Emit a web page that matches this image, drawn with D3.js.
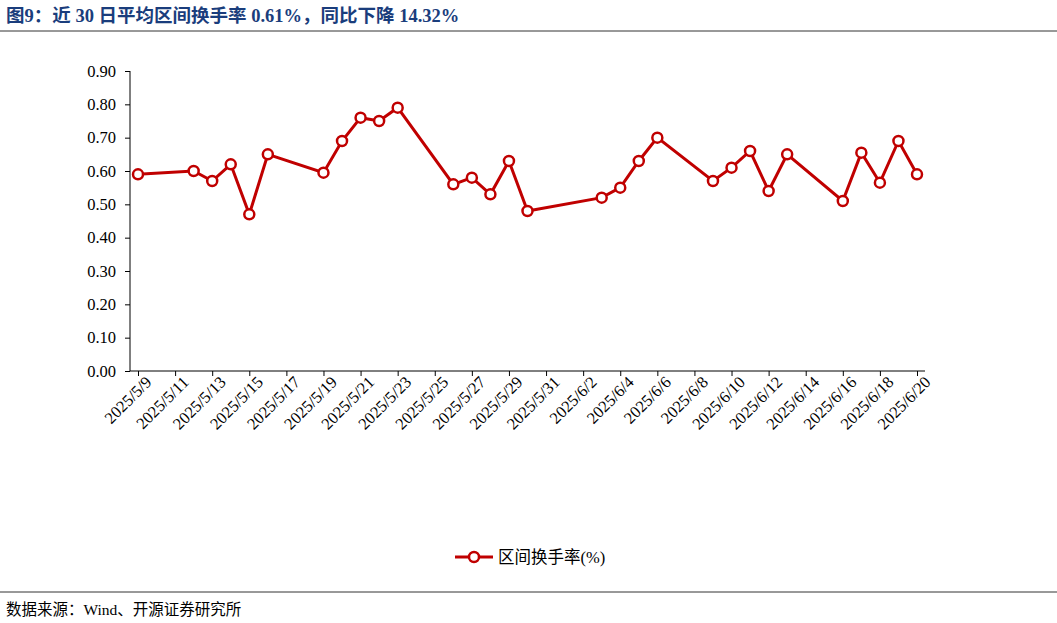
<!DOCTYPE html>
<html><head><meta charset="utf-8">
<script src="https://cdn.jsdelivr.net/npm/d3@7"></script>
<style>body{margin:0;background:#fff}text{font-family:"Liberation Serif","Noto Sans CJK SC",serif}</style>
</head><body><svg id="c" width="1057" height="623"></svg>
<script>
const dates=["2025-05-09","2025-05-12","2025-05-13","2025-05-14","2025-05-15","2025-05-16","2025-05-19","2025-05-20","2025-05-21","2025-05-22","2025-05-23","2025-05-26","2025-05-27","2025-05-28","2025-05-29","2025-05-30","2025-06-03","2025-06-04","2025-06-05","2025-06-06","2025-06-09","2025-06-10","2025-06-11","2025-06-12","2025-06-13","2025-06-16","2025-06-17","2025-06-18","2025-06-19","2025-06-20"];
const values=[0.59,0.60,0.57,0.62,0.47,0.65,0.595,0.69,0.76,0.75,0.79,0.56,0.58,0.53,0.63,0.48,0.52,0.55,0.63,0.70,0.57,0.61,0.66,0.54,0.65,0.51,0.655,0.565,0.69,0.59];
const yTicks=[0,0.1,0.2,0.3,0.4,0.5,0.6,0.7,0.8,0.9];
const title="图9：近 30 日平均区间换手率 0.61%，同比下降 14.32%";
const seriesName="区间换手率(%)";
const source="数据来源：Wind、开源证券研究所";
const red="#c00000";
const svg=d3.select("#c");
const p=d=>new Date(d+"T00:00:00");
const x=d3.scaleTime().domain([p("2025-05-09"),p("2025-06-20")]).range([138,917]);
const y=d3.scaleLinear().domain([0,0.9]).range([371,71]);
svg.append("text").attr("x",6).attr("y",22).attr("font-size",18.5).attr("font-weight","bold").attr("fill","#1a3d7c").text(title);
svg.append("line").attr("x1",0).attr("x2",1057).attr("y1",31).attr("y2",31).attr("stroke","#333");
svg.append("line").attr("x1",0).attr("x2",1057).attr("y1",592).attr("y2",592).attr("stroke","#333");
svg.append("text").attr("x",6).attr("y",615).attr("font-size",15.5).text(source);
const ya=svg.append("g").attr("transform","translate(130,0)").call(d3.axisLeft(y).tickValues(yTicks).tickFormat(d3.format(".2f")).tickSizeOuter(0).tickSize(5));
ya.selectAll("text").attr("font-size",16.5).attr("fill","#000").attr("font-family","Liberation Serif").attr("x",-14);
ya.select(".domain").attr("d","M0,371V71");
const tickDates=d3.timeDay.range(p("2025-05-09"),p("2025-06-21"),2);
const xa=svg.append("g").attr("transform","translate(0,371)").call(d3.axisBottom(x).tickValues(tickDates).tickFormat(d3.timeFormat("%Y/%-m/%-d")).tickSize(5).tickSizeOuter(0));
xa.select(".domain").attr("d","M130,0H925");
xa.selectAll("text").attr("font-size",16.5).attr("fill","#000").attr("font-family","Liberation Serif").attr("text-anchor","end").attr("y",0).attr("transform","translate(6,4) rotate(-45)").attr("dy","0.7em").attr("dx","0");
const pts=dates.map((d,i)=>[x(p(d)),y(values[i])]);
svg.append("path").attr("d",d3.line()(pts)).attr("fill","none").attr("stroke",red).attr("stroke-width",3);
svg.selectAll("circle.pt").data(pts).join("circle").attr("cx",d=>d[0]).attr("cy",d=>d[1]).attr("r",5).attr("fill","#fff").attr("stroke",red).attr("stroke-width",2.5);
svg.append("line").attr("x1",455).attr("x2",493).attr("y1",557).attr("y2",557).attr("stroke",red).attr("stroke-width",3);
svg.append("circle").attr("cx",474).attr("cy",557).attr("r",5).attr("fill","#fff").attr("stroke",red).attr("stroke-width",2.5);
svg.append("text").attr("x",498).attr("y",563).attr("font-size",16.5).text(seriesName);
</script></body></html>
